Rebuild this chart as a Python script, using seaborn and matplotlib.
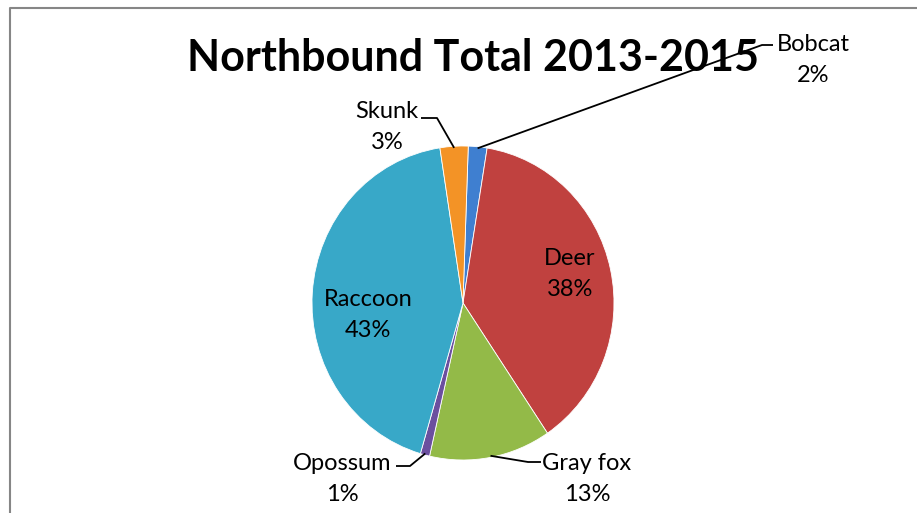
import numpy as np
import matplotlib
matplotlib.use("Agg")
import matplotlib.pyplot as plt
import seaborn as sns

categories = ["Bobcat", "Deer", "Gray fox", "Opossum", "Raccoon", "Skunk"]
values = [2, 38, 13, 1, 43, 3]
colors = ["#3f7fd0", "#c0413f", "#93ba48", "#6b4f9f", "#38a8c8", "#f39326"]

sns.set_theme(style="white")
plt.rcParams["font.family"] = ["Lato", "DejaVu Sans"]

W, H = 917, 513
fig = plt.figure(figsize=(W / 100, H / 100), dpi=100)

cx, cy, rx, ry = 463, 303, 151, 157
pax = fig.add_axes([0, 0, 1, 1])
pax.axis("off")
wedges, _ = pax.pie(values, colors=colors, startangle=88, counterclock=False,
                    center=(0, 0), radius=1,
                    wedgeprops=dict(edgecolor="#ffffff", linewidth=0.6))
pax.set_aspect("auto")
pax.set_xlim(-cx / rx, (W - cx) / rx)
pax.set_ylim(-(H - cy) / ry, cy / ry)

ax = fig.add_axes([0, 0, 1, 1])
ax.set_xlim(0, W)
ax.set_ylim(H, 0)
ax.axis("off")
ax.set_zorder(5)

def edge_point(w, frac=1.0):
    ang = np.deg2rad((w.theta1 + w.theta2) / 2)
    return cx + rx * frac * np.cos(ang), cy - ry * frac * np.sin(ang)

fs = 17
ls = 1.62
txt_color = "#000000"
inside = {"Deer": (570, 274), "Raccoon": (368, 315)}
for name, (x, y) in inside.items():
    i = categories.index(name)
    ax.text(x, y, f"{name}\n{values[i]}%", ha="center", va="center",
            fontsize=fs, color=txt_color, linespacing=ls)

outside = {
    "Bobcat": ((813, 60), [(762, 45), (773, 45)]),
    "Skunk": ((387, 127), [(437, 118), (421, 118)]),
    "Opossum": ((342, 479), [(410, 466), (396, 466)]),
    "Gray fox": ((587, 479), [(528, 462), (541, 462)]),
}
for name, ((x, y), pts) in outside.items():
    i = categories.index(name)
    ex, ey = edge_point(wedges[i], 0.99)
    xs = [ex] + [p[0] for p in pts]
    ys = [ey] + [p[1] for p in pts]
    ax.plot(xs, ys, color="black", lw=1.3, solid_capstyle="butt")
    ax.text(x, y, f"{name}\n{values[i]}%", ha="center", va="center",
            fontsize=fs, color=txt_color, linespacing=ls)

ax.text(473, 58, "Northbound Total 2013-2015", ha="center", va="center",
        fontsize=31, fontweight="bold", color="black", zorder=1)

ax.plot([9.5, 9.5, W + 5], [H + 5, 7.5, 7.5], color="#868686", lw=1.5)

fig.savefig("out.png", dpi=100)
